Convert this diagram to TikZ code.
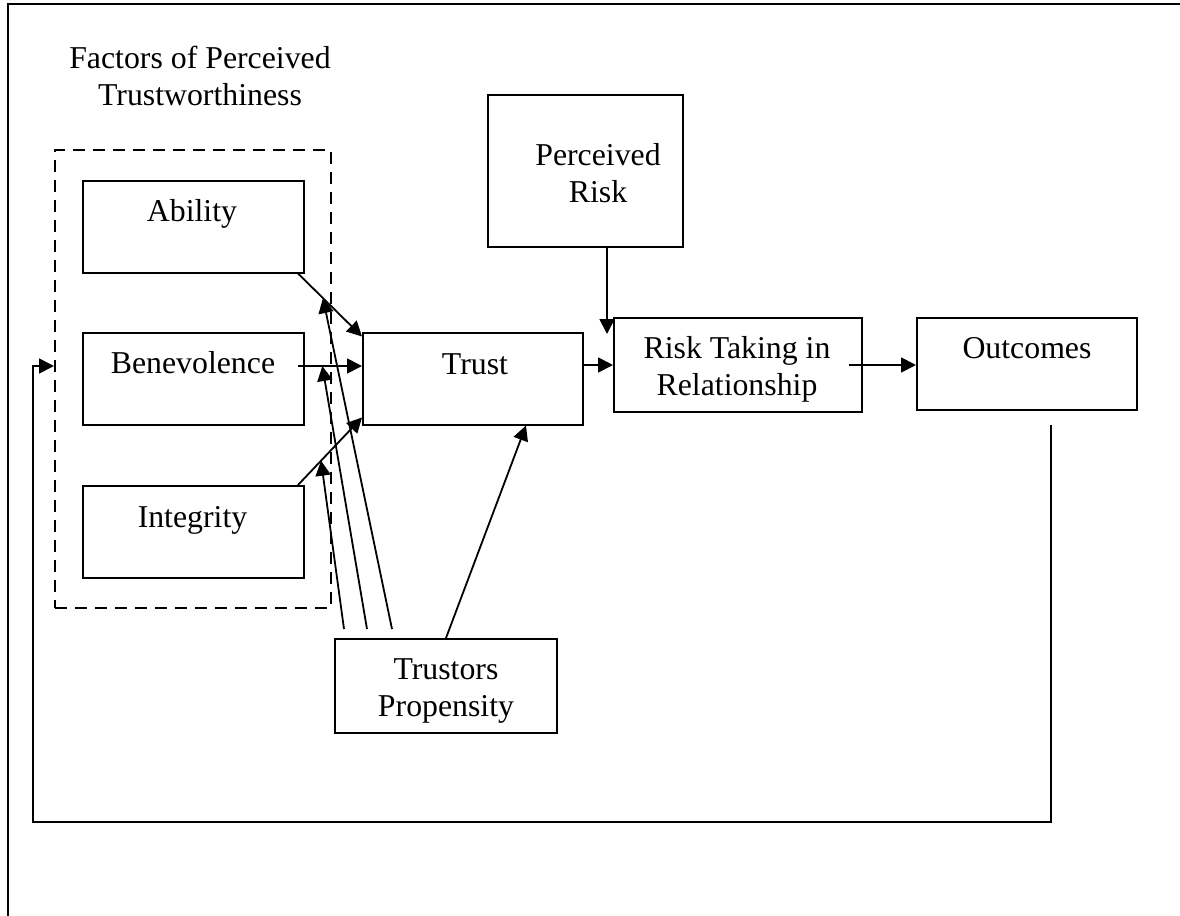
\documentclass[tikz,border=0pt]{standalone}
\usepackage{fontspec}
\setmainfont{Liberation Serif}
\usetikzlibrary{arrows.meta}
\begin{document}
\begin{tikzpicture}[x=0.5pt, y=-0.5pt,
  every node/.style={font=\fontsize{15.9pt}{18.5pt}\selectfont},
  box/.style={draw, line width=1pt, inner sep=0pt, minimum width=110.5pt, minimum height=46pt},
  lbl/.style={anchor=base, align=center, inner sep=0pt},
  arr/.style={line width=0.9pt, -{Triangle[length=7.5pt, width=7.5pt]}}]
  \useasboundingbox (0,0) rectangle (1180,916);
  \draw[line width=1.2pt] (8,916) -- (8,4) -- (1180,4);

  \node[lbl] (facT) at (200,105) {Factors of Perceived\\Trustworthiness};
  \node[draw, dash pattern=on 6pt off 4pt, line width=1pt, inner sep=0pt,
        minimum width=138pt, minimum height=229pt] (fac) at (193,379) {};

  \node[box] (abi) at (193.5,226.5) {};
  \node[box] (ben) at (193.5,379) {};
  \node[box] (integ) at (193.5,532) {};
  \node[box, minimum width=110pt] (trust) at (473,378.5) {};
  \node[box, minimum width=97.5pt, minimum height=76pt] (perc) at (585.5,171) {};
  \node[box, minimum width=124pt, minimum height=47pt] (rtr) at (738,365) {};
  \node[box, minimum width=110pt] (out) at (1027,364) {};
  \node[box, minimum width=111pt, minimum height=47pt] (prop) at (446,686) {};

  \node[lbl] (abiT) at (192,221) {Ability};
  \node[lbl] (benT) at (193,373) {Benevolence};
  \node[lbl] (integT) at (192.5,527) {Integrity};
  \node[lbl] (trustT) at (475,374) {Trust};
  \node[lbl] (percT) at (598,202) {Perceived\\Risk};
  \node[lbl] (rtrT) at (737,395) {Risk Taking in\\Relationship};
  \node[lbl] (outT) at (1027,358) {Outcomes};
  \node[lbl] (propT) at (446,716) {Trustors\\Propensity};

  \draw[arr] ([xshift=-3.5pt]abi.south east) -- coordinate[pos=0.39] (abiM) ([yshift=-2.5pt]trust.north west);
  \draw[arr] ([xshift=-3.5pt,yshift=6.5pt]ben.east) -- coordinate[pos=0.38] (benM) ([yshift=6.25pt]trust.west);
  \draw[arr] ([xshift=-3.5pt]integ.north east) -- coordinate[pos=0.36] (integM) ([yshift=4pt]trust.south west);

  \draw[arr] ([xshift=5pt,yshift=4.5pt]prop.north west) -- (integM);
  \draw[arr] ([xshift=16.5pt,yshift=4.5pt]prop.north west) -- (benM);
  \draw[arr] ([xshift=29pt,yshift=4.5pt]prop.north west) -- (abiM);
  \draw[arr] (prop.north) -- ([xshift=26.5pt]trust.south);

  \coordinate (rin) at ([xshift=-3pt,yshift=-8.5pt]rtr.north west);
  \draw[arr] (rin |- perc.south) -- (rin);
  \draw[arr] (trust.east |- rtr.west) -- (rtr.west);
  \draw[arr] ([xshift=-7pt]rtr.east) -- (rtr.east -| out.west);

  \coordinate (fb) at (33,822);
  \draw[arr] ([xshift=12pt,yshift=-7pt]out.south) |- (fb) |- ([yshift=6.5pt]fac.west);
\end{tikzpicture}
\end{document}
